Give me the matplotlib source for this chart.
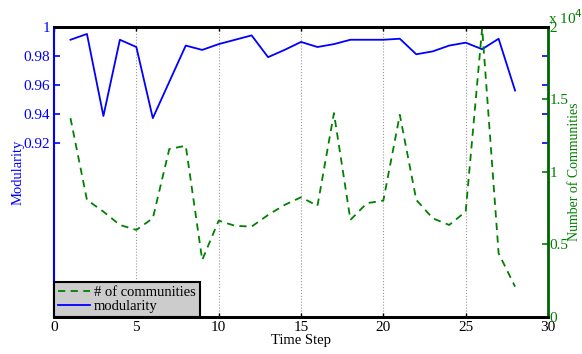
import matplotlib
matplotlib.use('Agg')
import matplotlib.pyplot as plt
from matplotlib.lines import Line2D

BLUE = '#0000ff'
GREEN = '#008000'
plt.rcParams['font.family'] = ['Liberation Serif', 'DejaVu Serif']

steps = list(range(1, 29))
modularity = [0.991, 0.995, 0.9385, 0.991, 0.986, 0.937, 0.962, 0.987, 0.984, 0.988,
              0.991, 0.994, 0.979, 0.984, 0.9895, 0.986, 0.988, 0.991, 0.991, 0.991,
              0.9917, 0.981, 0.983, 0.987, 0.989, 0.9845, 0.9917, 0.956]
communities = [1.37, 0.807, 0.726, 0.634, 0.600, 0.680, 1.157, 1.180, 0.393, 0.664,
               0.628, 0.623, 0.703, 0.772, 0.825, 0.766, 1.405, 0.669, 0.784, 0.802,
               1.393, 0.807, 0.680, 0.634, 0.726, 1.99, 0.439, 0.209]  # x 10^4
mod_ticks = [0.92, 0.94, 0.96, 0.98, 1.0]
mod_labels = ['0.92', '0.94', '0.96', '0.98', '1']
com_ticks = [0, 0.5, 1, 1.5, 2]
com_labels = ['0', '0.5', '1', '1.5', '2']
x_ticks = [0, 5, 10, 15, 20, 25, 30]

fig = plt.figure(figsize=(5.82, 3.54), dpi=100)
ax = fig.add_axes([0.0928, 0.1045, 0.8488, 0.8201])
ax2 = ax.twinx()

ax.plot(steps, modularity, color=BLUE, lw=1.3)
ax2.plot(steps, communities, color=GREEN, lw=1.3, ls=(0, (4, 3)))

ax.set_xlim(0, 30)
ax.set_ylim(0.8, 1.0)
ax2.set_ylim(0, 2)
ax.set_xticks(x_ticks)
ax.set_xticklabels([str(t) for t in x_ticks], fontsize=11)
ax.set_yticks(mod_ticks)
ax.set_yticklabels(mod_labels, fontsize=11, color=BLUE)
ax2.set_yticks(com_ticks)
ax2.set_yticklabels(com_labels, fontsize=11, color=GREEN)

ax.xaxis.grid(True, color='#999999', ls=':', lw=0.8)
ax.tick_params(axis='x', direction='in', top=True, length=3, width=1, pad=3)
ax.tick_params(axis='y', direction='in', right=True, colors=BLUE, length=4, width=1.2, pad=3)
ax2.tick_params(axis='y', direction='in', colors=GREEN, length=4, width=1.2, pad=1)

for s in ['top', 'bottom']:
    ax.spines[s].set_linewidth(2)
    ax2.spines[s].set_linewidth(2)
ax.spines['left'].set_color(BLUE)
ax.spines['left'].set_linewidth(1.5)
ax2.spines['left'].set_visible(False)
ax2.spines['right'].set_color('#006400')
ax2.spines['right'].set_linewidth(2)
ax.spines['right'].set_visible(False)

ax.set_xlabel('Time Step', fontsize=10.5, labelpad=0)
ax.set_ylabel('Modularity', fontsize=10.5, color=BLUE, labelpad=-1)
ax2.set_ylabel('Number of Communities', fontsize=10, color=GREEN, labelpad=0)
ax2.text(1.0, 1.0, r'x 10$^4$', transform=ax2.transAxes, color=GREEN, fontsize=11,
         ha='left', va='bottom')

handles = [Line2D([], [], color=GREEN, lw=1.3, ls=(0, (4, 3))),
           Line2D([], [], color=BLUE, lw=1.3)]
leg = ax2.legend(handles, ['# of communities', 'modularity'], loc='lower left',
                 borderaxespad=0, fancybox=False, framealpha=1, facecolor='#cccccc',
                 edgecolor='black', fontsize=10.5, handlelength=2.2, handletextpad=0.3,
                 labelspacing=0.1, borderpad=0.25)
leg.get_frame().set_linewidth(1.5)

fig.savefig('out.png', dpi=100)
